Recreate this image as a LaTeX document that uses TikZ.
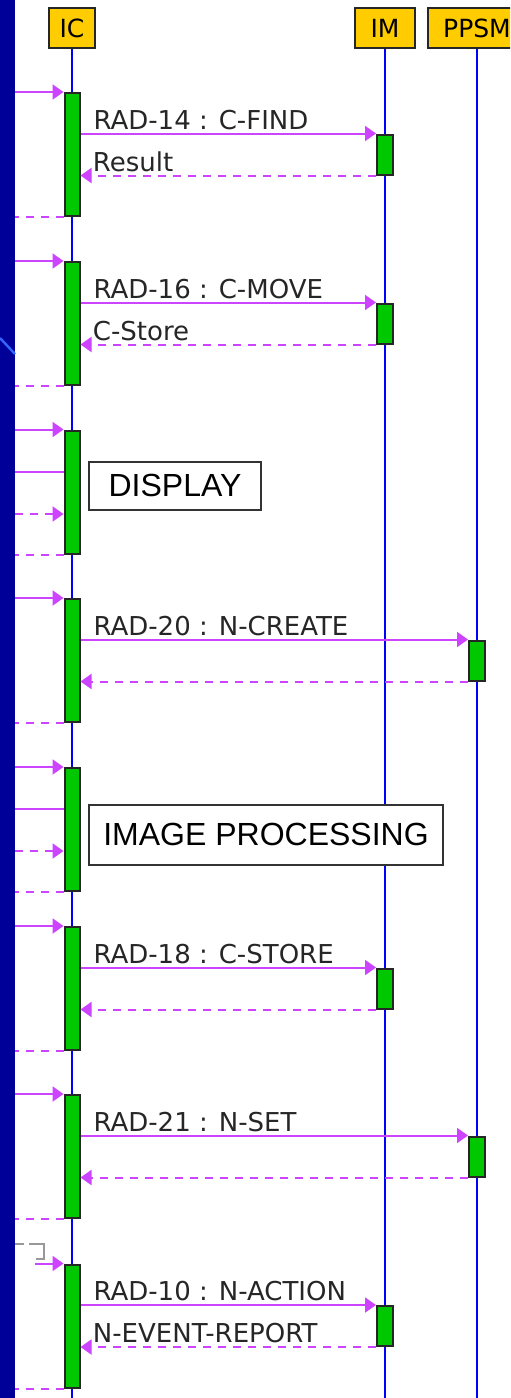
\documentclass[tikz,border=0pt]{standalone}
\usepackage{fontspec}
\usetikzlibrary{arrows.meta,positioning}
\newfontfamily\lblfont{DejaVu Sans}
\newfontfamily\stagefont{Liberation Sans}
\definecolor{slide}{HTML}{000099}
\definecolor{swoosh}{HTML}{3366FF}
\definecolor{lifeblue}{HTML}{0000FF}
\definecolor{actgreen}{HTML}{00C800}
\definecolor{hdrgold}{HTML}{FFCC00}
\definecolor{msgpink}{HTML}{CC44FF}
\definecolor{framegray}{HTML}{999999}
\tikzset{
  header/.style={rectangle,draw=black!85,line width=1pt,fill=hdrgold,minimum height=20pt,inner sep=0pt,font=\lblfont\fontsize{12.5}{12.5}\selectfont},
  lifeline/.style={lifeblue,line width=1pt},
  icact/.style={rectangle,draw=black!85,line width=1pt,fill=actgreen,minimum width=7.5pt,minimum height=61.5pt,inner sep=0pt},
  srvact/.style={rectangle,draw=black!85,line width=1pt,fill=actgreen,minimum width=8pt,minimum height=20pt,inner sep=0pt},
  msg/.style={msgpink,line width=1pt,-{Triangle[length=5.5pt,width=7.5pt]}},
  reply/.style={msg,dash pattern=on 4pt off 3.5pt},
  replyline/.style={msgpink,line width=1pt,dash pattern=on 4pt off 3.5pt},
  plainline/.style={msgpink,line width=1pt},
  msglabel/.style={anchor=base west,xshift=6pt,yshift=2.2pt,inner sep=0pt,text=black!85,font=\lblfont\fontsize{13}{13}\selectfont},
  stagebox/.style={rectangle,draw=black!80,line width=1pt,fill=white,inner sep=0pt,text=black,font=\stagefont\fontsize{16}{16}\selectfont}
}
\begin{document}
\begin{tikzpicture}[x=0.5pt,y=-0.5pt]
  \useasboundingbox (0,0) rectangle (510,1398);
  \clip (0,0) rectangle (510,1398);
  \fill[white] (0,0) rectangle (510,1398);
  \fill[slide] (0,0) rectangle (15,1398);
  \draw[swoosh,line width=1.2pt] (0,338) -- (15,354);

  \node[header,minimum width=23pt] (ic) at (72,28) {IC};
  \node[header,minimum width=30pt] (im) at (385,28) {IM};
  \node[header,minimum width=49pt] (ppsm) at (477,28) {PPSM};
  \coordinate (bottom) at (0,1398);
  \coordinate (edge) at (15,0);
  \coordinate (edgeb) at (35,0);
  \draw[lifeline] (ic.south) -- (ic.south |- bottom);
  \draw[lifeline] (im.south) -- (im.south |- bottom);
  \draw[lifeline] (ppsm.south) -- (ppsm.south |- bottom);

  \node[icact] (a1) at (72,154.5) {};
  \node[srvact] (m1) at (a1 -| im) {};
  \draw[msg] (edge |- a1.north) -- (a1.north west);
  \draw[msg] (a1.east |- m1.north) -- node[msglabel,pos=0] {RAD-14 : C-FIND} (m1.north west);
  \draw[reply] (m1.south west) -- (a1.east |- m1.south);
  \node[msglabel] at (a1.east |- m1.south) {Result};
  \draw[replyline] (a1.south west) -- (edge |- a1.south);

  \node[icact] (a2) at (72,323.5) {};
  \node[srvact] (m2) at (a2 -| im) {};
  \draw[msg] (edge |- a2.north) -- (a2.north west);
  \draw[msg] (a2.east |- m2.north) -- node[msglabel,pos=0] {RAD-16 : C-MOVE} (m2.north west);
  \draw[reply] (m2.south west) -- (a2.east |- m2.south);
  \node[msglabel] at (a2.east |- m2.south) {C-Store};
  \draw[replyline] (a2.south west) -- (edge |- a2.south);

  \node[icact] (a3) at (72,492) {};
  \coordinate (s3) at (15,472);
  \coordinate (r3) at (15,514);
  \draw[msg] (edge |- a3.north) -- (a3.north west);
  \draw[plainline] (s3) -- (a3.west |- s3);
  \draw[reply] (r3) -- (a3.west |- r3);
  \draw[replyline] (a3.south west) -- (edge |- a3.south);
  \node[stagebox,minimum width=86pt,minimum height=24pt] (disp) at (175,485.5) {DISPLAY};

  \node[icact] (a4) at (72,660.5) {};
  \node[srvact] (p4) at (a4 -| ppsm) {};
  \draw[msg] (edge |- a4.north) -- (a4.north west);
  \draw[msg] (a4.east |- p4.north) -- node[msglabel,pos=0] {RAD-20 : N-CREATE} (p4.north west);
  \draw[reply] (p4.south west) -- (a4.east |- p4.south);
  \draw[replyline] (a4.south west) -- (edge |- a4.south);

  \node[icact] (a5) at (72,829.5) {};
  \coordinate (s5) at (15,809);
  \coordinate (r5) at (15,851);
  \draw[msg] (edge |- a5.north) -- (a5.north west);
  \draw[plainline] (s5) -- (a5.west |- s5);
  \draw[reply] (r5) -- (a5.west |- r5);
  \draw[replyline] (a5.south west) -- (edge |- a5.south);
  \node[stagebox,minimum width=177pt,minimum height=30pt] (imgproc) at (266,834.5) {IMAGE PROCESSING};

  \node[icact] (a6) at (72,988.5) {};
  \node[srvact] (m6) at (a6 -| im) {};
  \draw[msg] (edge |- a6.north) -- (a6.north west);
  \draw[msg] (a6.east |- m6.north) -- node[msglabel,pos=0] {RAD-18 : C-STORE} (m6.north west);
  \draw[reply] (m6.south west) -- (a6.east |- m6.south);
  \draw[replyline] (a6.south west) -- (edge |- a6.south);

  \node[icact] (a7) at (72,1156.5) {};
  \node[srvact] (p7) at (a7 -| ppsm) {};
  \draw[msg] (edge |- a7.north) -- (a7.north west);
  \draw[msg] (a7.east |- p7.north) -- node[msglabel,pos=0] {RAD-21 : N-SET} (p7.north west);
  \draw[reply] (p7.south west) -- (a7.east |- p7.south);
  \draw[replyline] (a7.south west) -- (edge |- a7.south);

  \draw[framegray,line width=1pt,dash pattern=on 4.5pt off 2.5pt on 100pt] (15,1244) -- (44,1244) -- (44,1259) -- (36,1259);
  \node[icact] (a8) at (72,1326) {};
  \node[srvact] (m8) at (a8 -| im) {};
  \draw[msg] (edgeb |- a8.north) -- (a8.north west);
  \draw[msg] (a8.east |- m8.north) -- node[msglabel,pos=0] {RAD-10 : N-ACTION} (m8.north west);
  \draw[reply] (m8.south west) -- (a8.east |- m8.south);
  \node[msglabel] at (a8.east |- m8.south) {N-EVENT-REPORT};
  \draw[replyline] (a8.south west) -- (edge |- a8.south);
\end{tikzpicture}
\end{document}
